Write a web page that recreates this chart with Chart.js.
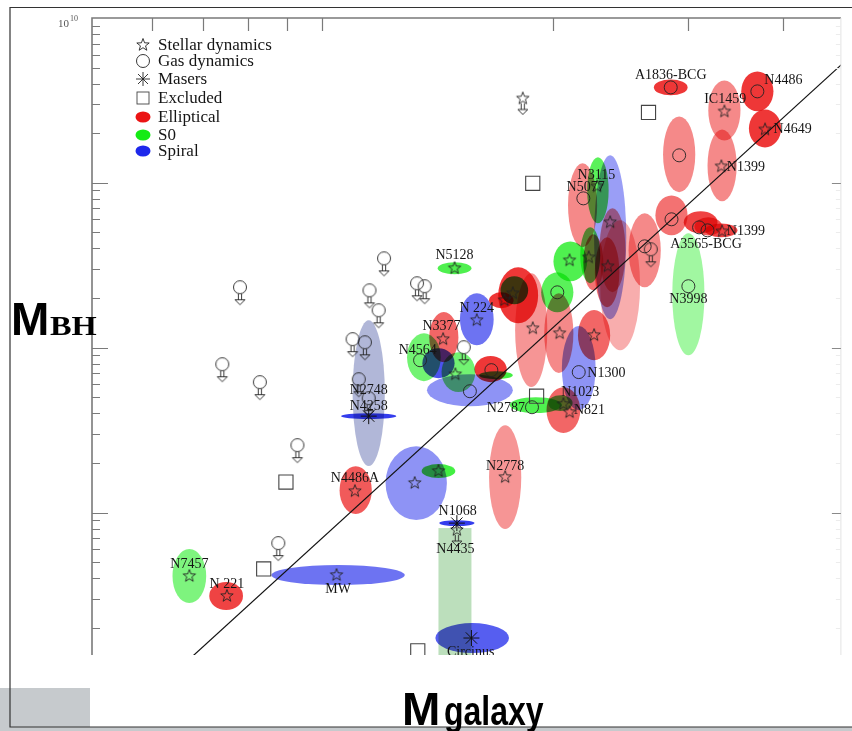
<!DOCTYPE html>
<html>
<head>
<meta charset="utf-8">
<script src="https://cdn.jsdelivr.net/npm/chart.js@4.4.1/dist/chart.umd.min.js"></script>
<style>
  html, body { margin: 0; padding: 0; background: #fff; }
  #wrap { width: 852px; height: 731px; }
</style>
</head>
<body>
<div id="wrap"><canvas id="chart" width="852" height="731"></canvas></div>
<script>
// all positions are log10(sigma / km s^-1) and log10(M_BH / M_sun)
const sigmaTicks = [60, 70, 80, 90, 100, 200, 300, 400];
const massDecades = [6, 7, 8, 9];
const massMantissas = [2, 3, 4, 5, 6, 7, 8, 9];

// error ellipses: centre, half width (dex), half height (dex), type, opacity
const ellSigma = [2.455, 2.568, 2.525, 2.578, 2.466, 2.522, 2.456, 2.494, 2.504, 2.521, 2.421, 2.478, 2.340, 2.360, 2.376, 2.379, 2.324, 2.350, 2.354, 2.372, 2.389, 2.307, 2.256, 2.251, 2.234, 2.273, 2.309, 2.355, 2.335, 2.315, 2.279, 2.311, 2.173, 2.202, 2.159, 2.133, 2.152, 2.178, 2.193, 2.220, 2.227, 2.061, 2.061, 2.123, 2.152, 2.044, 2.239, 2.176, 2.196, 2.021, 1.827, 1.875];
const ellMass = [9.579, 9.555, 9.439, 9.330, 9.173, 9.106, 8.803, 8.761, 8.736, 8.712, 8.591, 8.324, 8.864, 8.955, 8.670, 8.591, 8.524, 8.561, 8.518, 8.458, 8.379, 8.336, 8.318, 8.348, 8.288, 8.106, 8.088, 8.076, 7.876, 7.621, 7.652, 7.664, 8.482, 8.173, 8.064, 7.942, 7.906, 7.852, 7.742, 7.870, 7.833, 7.724, 7.585, 7.179, 7.252, 7.136, 7.215, 6.936, 6.239, 6.621, 6.615, 6.494];
const ellHalfW = [0.022, 0.021, 0.021, 0.021, 0.021, 0.019, 0.021, 0.022, 0.018, 0.021, 0.021, 0.021, 0.019, 0.014, 0.021, 0.017, 0.022, 0.013, 0.013, 0.016, 0.026, 0.021, 0.026, 0.018, 0.016, 0.021, 0.019, 0.021, 0.022, 0.022, 0.034, 0.016, 0.022, 0.022, 0.019, 0.022, 0.021, 0.022, 0.056, 0.021, 0.022, 0.021, 0.036, 0.040, 0.022, 0.021, 0.021, 0.023, 0.048, 0.087, 0.022, 0.022];
const ellHalfH = [0.048, 0.121, 0.182, 0.115, 0.230, 0.218, 0.121, 0.067, 0.055, 0.042, 0.224, 0.370, 0.255, 0.200, 0.497, 0.255, 0.121, 0.170, 0.170, 0.212, 0.394, 0.121, 0.170, 0.085, 0.048, 0.345, 0.242, 0.152, 0.255, 0.139, 0.048, 0.048, 0.036, 0.158, 0.152, 0.145, 0.091, 0.121, 0.097, 0.079, 0.024, 0.442, 0.018, 0.224, 0.042, 0.145, 0.315, 0.018, 0.091, 0.061, 0.164, 0.085];
const ellType = ['E', 'E', 'E', 'E', 'E', 'E', 'E', 'E', 'E', 'E', 'E', 'S0', 'E', 'S0', 'Sp', 'E', 'S0', 'S0', 'E', 'E', 'E', 'S0', 'E', 'S0', 'E', 'E', 'E', 'E', 'Sp', 'E', 'S0', 'S0', 'S0', 'Sp', 'E', 'S0', 'Sp', 'S0', 'Sp', 'E', 'S0', 'U', 'Sp', 'Sp', 'S0', 'E', 'E', 'Sp', 'Sp', 'Sp', 'S0', 'E'];
const ellAlpha = [0.85, 0.85, 0.5, 0.85, 0.5, 0.5, 0.6, 0.8, 0.7, 0.8, 0.5, 0.4, 0.5, 0.7, 0.45, 0.5, 0.75, 0.7, 0.6, 0.6, 0.35, 0.7, 0.85, 0.8, 0.85, 0.45, 0.5, 0.65, 0.5, 0.65, 0.75, 0.7, 0.75, 0.65, 0.65, 0.6, 0.8, 0.6, 0.5, 0.85, 0.8, 0.65, 0.9, 0.5, 0.8, 0.7, 0.45, 0.9, 0.75, 0.65, 0.55, 0.8];

// N4435 range box
const bandSigma = [2.152, 2.195];
const bandMass = [6.0, 6.906];

const starPts = [[2.525, 9.433], [2.578, 9.324], [2.521, 9.100], [2.522, 8.706], [2.359, 8.979], [2.376, 8.761], [2.323, 8.530], [2.348, 8.548], [2.373, 8.494], [2.275, 8.118], [2.310, 8.088], [2.355, 8.076], [2.173, 8.482], [2.202, 8.167], [2.158, 8.052], [2.174, 7.839], [2.315, 7.658], [2.323, 7.609], [2.121, 7.179], [2.152, 7.252], [2.043, 7.130], [2.239, 7.215], [2.019, 6.621], [1.827, 6.615], [1.876, 6.494], [2.249, 8.330], [2.238, 8.288]];
const gasPts = [[2.455, 9.579], [2.568, 9.555], [2.466, 9.167], [2.456, 8.779], [2.492, 8.730], [2.503, 8.712], [2.421, 8.615], [2.478, 8.373], [2.341, 8.906], [2.307, 8.336], [2.335, 7.852], [2.274, 7.639], [2.193, 7.736], [2.221, 7.864], [2.128, 7.924]];
const maserPts = [[2.061, 7.585], [2.176, 6.936], [2.195, 6.239]];
const excludedPts = [[2.275, 8.997], [2.426, 9.427], [2.280, 7.706], [1.953, 7.185], [1.924, 6.658], [2.125, 6.161]];
const gasLimitPts = [[2.081, 8.542], [1.893, 8.367], [2.062, 8.348], [2.074, 8.227], [2.040, 8.052], [2.056, 8.033], [1.870, 7.900], [1.919, 7.791], [2.048, 7.809], [2.061, 7.694], [1.968, 7.409], [1.943, 6.815], [2.124, 8.391], [2.134, 8.373], [2.185, 8.003], [2.429, 8.597]];
const starLimitPts = [[2.262, 9.512], [2.176, 6.894]];

const fitSigma = [1.80, 2.70];
const fitMass = [5.996, 9.812];

const labelText = ['A1836-BCG', 'N4486', 'IC1459', 'N4649', 'N1399', 'N1399', 'A3565-BCG', 'N3998', 'N3115', 'N5077', 'N5128', 'N 224', 'N3377', 'N4564', 'N2748', 'N4258', 'N1300', 'N1023', 'N821', 'N2787', 'N2778', 'N4486A', 'N1068', 'N4435', 'Circinus', 'MW', 'N7457', 'N 221'];
const labelSigma = [2.455, 2.602, 2.526, 2.614, 2.553, 2.553, 2.501, 2.478, 2.358, 2.344, 2.173, 2.202, 2.156, 2.125, 2.061, 2.061, 2.371, 2.337, 2.349, 2.240, 2.239, 2.043, 2.177, 2.174, 2.194, 2.021, 1.827, 1.876];
const labelMass = [9.652, 9.621, 9.506, 9.324, 9.094, 8.706, 8.627, 8.294, 9.045, 8.973, 8.561, 8.239, 8.130, 7.985, 7.742, 7.645, 7.845, 7.730, 7.621, 7.633, 7.282, 7.209, 7.009, 6.779, 6.155, 6.536, 6.688, 6.567];

const legendLabels = ['Stellar dynamics', 'Gas dynamics', 'Masers', 'Excluded', 'Elliptical', 'S0', 'Spiral'];

const typeColor = { E: '235,20,20', S0: '20,235,20', Sp: '30,40,235', U: '135,145,195' };
const SERIF = '"Liberation Serif", "DejaVu Serif", serif';

function drawStarPath(g, cx, cy, ro, ri) {
  g.beginPath();
  for (let k = 0; k < 10; k++) {
    const r = k % 2 ? ri : ro;
    const a = -Math.PI / 2 + k * Math.PI / 5;
    const px = cx + r * Math.cos(a), py = cy + r * Math.sin(a);
    k ? g.lineTo(px, py) : g.moveTo(px, py);
  }
  g.closePath();
  g.stroke();
}

function drawArrow(g, cx, top) {
  g.beginPath();
  g.moveTo(cx - 1.6, top); g.lineTo(cx - 1.6, top + 6);
  g.moveTo(cx + 1.6, top); g.lineTo(cx + 1.6, top + 6);
  g.moveTo(cx - 5, top + 6); g.lineTo(cx + 5, top + 6); g.lineTo(cx, top + 11); g.closePath();
  g.stroke();
}

function makeSymbol(kind) {
  const c = document.createElement('canvas');
  const limit = kind.endsWith('Limit');
  c.width = 20; c.height = limit ? 44 : 20;
  const g = c.getContext('2d');
  const cx = 10, cy = c.height / 2;
  g.strokeStyle = '#222'; g.lineWidth = 0.9;
  if (kind.startsWith('star')) {
    drawStarPath(g, cx, cy, 6.5, 2.7);
    if (limit) drawArrow(g, cx, cy + 5);
  } else {
    g.beginPath(); g.arc(cx, cy, 6.5, 0, 2 * Math.PI); g.stroke();
    if (limit) drawArrow(g, cx, cy + 6.5);
  }
  return c;
}

const starImg = makeSymbol('star');
const starLimitImg = makeSymbol('starLimit');
const gasLimitImg = makeSymbol('gasLimit');

const toXY = p => ({ x: p[0], y: p[1] });

const backdrop = {
  id: 'backdrop',
  beforeDraw(chart) {
    const ctx = chart.ctx;
    ctx.save();
    ctx.fillStyle = '#fff';
    ctx.fillRect(0, 0, chart.width, chart.height);
    ctx.fillStyle = '#c6cacd';
    ctx.fillRect(0, 688, 90, 43);
    ctx.fillRect(0, 727, chart.width, 4);
    ctx.strokeStyle = '#333';
    ctx.lineWidth = 1.2;
    ctx.beginPath();
    ctx.moveTo(852, 7.5); ctx.lineTo(10, 7.5); ctx.lineTo(10, 727); ctx.lineTo(852, 727);
    ctx.stroke();
    ctx.restore();
  }
};

const ellipses = {
  id: 'ellipses',
  beforeDatasetsDraw(chart) {
    const { ctx, chartArea: a, scales: { x, y } } = chart;
    ctx.save();
    ctx.beginPath();
    ctx.rect(a.left, a.top, a.right - a.left, a.bottom - a.top);
    ctx.clip();
    ctx.globalCompositeOperation = 'multiply';
    const bx0 = x.getPixelForValue(bandSigma[0]), bx1 = x.getPixelForValue(bandSigma[1]);
    const by0 = y.getPixelForValue(bandMass[1]), by1 = y.getPixelForValue(bandMass[0]);
    ctx.fillStyle = 'rgba(165,212,165,0.75)';
    ctx.fillRect(bx0, by0, bx1 - bx0, by1 - by0);
    for (let i = 0; i < ellSigma.length; i++) {
      const cx = x.getPixelForValue(ellSigma[i]);
      const cy = y.getPixelForValue(ellMass[i]);
      const rx = x.getPixelForValue(ellSigma[i] + ellHalfW[i]) - cx;
      const ry = cy - y.getPixelForValue(ellMass[i] + ellHalfH[i]);
      ctx.beginPath();
      ctx.ellipse(cx, cy, rx, ry, 0, 0, 2 * Math.PI);
      ctx.fillStyle = `rgba(${typeColor[ellType[i]]},${ellAlpha[i]})`;
      ctx.fill();
    }
    ctx.restore();
  }
};

const decorations = {
  id: 'decorations',
  afterDatasetsDraw(chart) {
    const { ctx, chartArea: a, scales: { x, y } } = chart;
    ctx.save();
    // object names
    ctx.beginPath();
    ctx.rect(a.left, a.top, a.right - a.left, a.bottom - a.top);
    ctx.clip();
    ctx.font = '14px ' + SERIF;
    ctx.fillStyle = '#151515';
    ctx.textAlign = 'center';
    ctx.textBaseline = 'middle';
    labelText.forEach((t, i) => ctx.fillText(t, x.getPixelForValue(labelSigma[i]), y.getPixelForValue(labelMass[i])));
    ctx.restore();

    // frame and inward ticks
    ctx.save();
    ctx.strokeStyle = '#7a7a7a';
    ctx.lineWidth = 1.6;
    ctx.beginPath();
    ctx.moveTo(a.left, a.bottom); ctx.lineTo(a.left, a.top); ctx.lineTo(a.right, a.top);
    ctx.stroke();
    ctx.strokeStyle = '#e4e4e4';
    ctx.lineWidth = 1;
    ctx.beginPath(); ctx.moveTo(a.right, a.top); ctx.lineTo(a.right, a.bottom); ctx.stroke();

    ctx.strokeStyle = '#7a7a7a';
    ctx.lineWidth = 1.2;
    ctx.beginPath();
    sigmaTicks.forEach(v => {
      const px = Math.round(x.getPixelForValue(Math.log10(v))) + 0.5;
      ctx.moveTo(px, a.top); ctx.lineTo(px, a.top + 13);
    });
    massDecades.forEach(d => {
      const py = Math.round(y.getPixelForValue(d)) + 0.5;
      if (py > a.top + 2 && py < a.bottom) { ctx.moveTo(a.left, py); ctx.lineTo(a.left + 16, py); }
      massMantissas.forEach(m => {
        const q = Math.round(y.getPixelForValue(d + Math.log10(m))) + 0.5;
        if (q > a.top + 2 && q < a.bottom) { ctx.moveTo(a.left, q); ctx.lineTo(a.left + 8, q); }
      });
    });
    ctx.stroke();

    ctx.strokeStyle = '#8a8a8a';
    ctx.beginPath();
    massDecades.forEach(d => {
      const py = Math.round(y.getPixelForValue(d)) + 0.5;
      if (py > a.top + 2 && py < a.bottom) { ctx.moveTo(a.right, py); ctx.lineTo(a.right - 9, py); }
    });
    ctx.stroke();
    ctx.strokeStyle = '#ececec';
    ctx.beginPath();
    massDecades.forEach(d => massMantissas.forEach(m => {
      const q = Math.round(y.getPixelForValue(d + Math.log10(m))) + 0.5;
      if (q > a.top + 2 && q < a.bottom) { ctx.moveTo(a.right, q); ctx.lineTo(a.right - 5, q); }
    }));
    ctx.stroke();

    // top-left tick label
    ctx.fillStyle = '#555';
    ctx.textBaseline = 'alphabetic';
    ctx.font = '11px ' + SERIF;
    ctx.fillText('10', 58, 27);
    ctx.font = '8px ' + SERIF;
    ctx.fillText('10', 70, 21);

    // legend
    const rows = [45, 61, 79, 98, 117, 135, 151];
    const lx = 143;
    ctx.drawImage(starImg, lx - 10, rows[0] - 10);
    ctx.strokeStyle = '#222';
    ctx.lineWidth = 0.9;
    ctx.beginPath(); ctx.arc(lx, rows[1], 6.5, 0, 2 * Math.PI); ctx.stroke();
    ctx.beginPath();
    ctx.moveTo(lx - 7, rows[2]); ctx.lineTo(lx + 7, rows[2]);
    ctx.moveTo(lx, rows[2] - 7); ctx.lineTo(lx, rows[2] + 7);
    ctx.moveTo(lx - 5, rows[2] - 5); ctx.lineTo(lx + 5, rows[2] + 5);
    ctx.moveTo(lx - 5, rows[2] + 5); ctx.lineTo(lx + 5, rows[2] - 5);
    ctx.stroke();
    ctx.strokeStyle = '#444';
    ctx.strokeRect(lx - 6, rows[3] - 6, 12, 12);
    ['E', 'S0', 'Sp'].forEach((t, k) => {
      ctx.fillStyle = `rgb(${typeColor[t]})`;
      ctx.beginPath(); ctx.ellipse(lx, rows[4 + k], 7.5, 5.5, 0, 0, 2 * Math.PI); ctx.fill();
    });
    ctx.fillStyle = '#151515';
    ctx.font = '17px ' + SERIF;
    ctx.textAlign = 'left';
    ctx.textBaseline = 'middle';
    legendLabels.forEach((t, k) => ctx.fillText(t, 158, rows[k] + 1));

    // axis names
    ctx.fillStyle = '#000';
    ctx.textBaseline = 'alphabetic';
    ctx.font = 'bold 46px "Liberation Sans", Arial, sans-serif';
    ctx.fillText('M', 11, 335);
    ctx.save();
    ctx.translate(50, 335); ctx.scale(1.2, 1);
    ctx.font = 'bold 27px ' + SERIF;
    ctx.fillText('BH', 0, 0);
    ctx.restore();
    ctx.font = 'bold 46px "Liberation Sans", Arial, sans-serif';
    ctx.fillText('M', 402, 725);
    ctx.save();
    ctx.translate(444, 725); ctx.scale(0.8, 1);
    ctx.font = 'bold 40px "Liberation Sans", Arial, sans-serif';
    ctx.fillText('galaxy', 0, 0);
    ctx.restore();
    ctx.restore();
  }
};

const pointSet = (data, style, extra) => Object.assign({
  data: data.map(toXY),
  pointStyle: style,
  backgroundColor: 'rgba(0,0,0,0)',
  borderColor: '#222',
  borderWidth: 1,
  clip: 0
}, extra);

new Chart(document.getElementById('chart'), {
  type: 'scatter',
  data: {
    datasets: [{
      data: fitSigma.map((s, i) => ({ x: s, y: fitMass[i] })),
      showLine: true,
      pointRadius: 0,
      borderColor: '#111',
      borderWidth: 1.2,
      clip: 0
    },
    pointSet(gasPts, 'circle', { pointRadius: 6.5, borderWidth: 0.9 }),
    pointSet(excludedPts, 'rect', { pointRadius: 10, borderColor: '#444', borderWidth: 1.1 }),
    pointSet(maserPts, 'star', { pointRadius: 8, borderColor: '#111' }),
    pointSet(starPts, starImg),
    pointSet(starLimitPts, starLimitImg),
    pointSet(gasLimitPts, gasLimitImg)]
  },
  options: {
    responsive: false,
    animation: false,
    devicePixelRatio: 1,
    events: [],
    layout: { padding: { left: 92, right: 4, top: 18, bottom: 76 } },
    plugins: { legend: { display: false }, tooltip: { enabled: false } },
    scales: {
      x: { type: 'linear', display: false, min: 1.7, max: 2.677 },
      y: { type: 'linear', display: false, min: 6.136, max: 10 }
    }
  },
  plugins: [backdrop, ellipses, decorations]
});
</script>
</body>
</html>
